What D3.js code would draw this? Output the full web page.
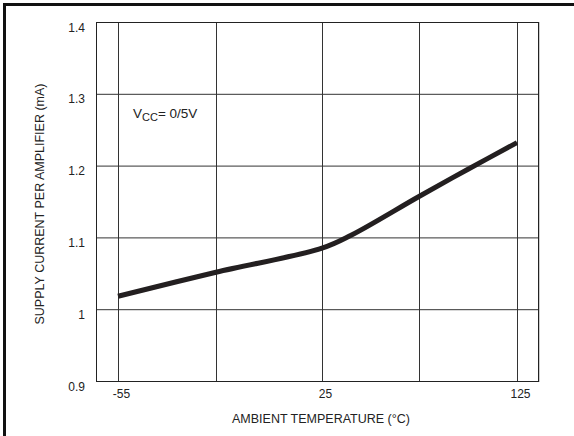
<!DOCTYPE html>
<html>
<head>
<meta charset="utf-8">
<script src="https://cdn.jsdelivr.net/npm/d3@7"></script>
<style>
  html, body { margin: 0; padding: 0; background: #fff; }
  svg { display: block; font-family: "Liberation Sans", Arial, Helvetica, sans-serif; }
</style>
</head>
<body>
<svg id="chart" width="574" height="436"></svg>
<script>
// data
const temps = [-55, -15, 25, 40, 75, 100, 125];
const current = [1.018, 1.0515, 1.085, 1.103, 1.157, 1.195, 1.232];

const xGrid = [-55, -15, 25, 75, 125];
const xLabels = [-55, 25, 125];
const yTicks = [0.9, 1, 1.1, 1.2, 1.3, 1.4];

const margin = { top: 22, right: 36, bottom: 55, left: 96 };
const W = 574, H = 436;
const w = W - margin.left - margin.right;
const h = H - margin.top - margin.bottom;

const svg = d3.select("#chart");

// outer frame (only top and left visible)
svg.append("path")
  .attr("d", `M4.5,${H} V4.5 H${W}`)
  .attr("fill", "none")
  .attr("stroke", "#111")
  .attr("stroke-width", 3);

const g = svg.append("g")
  .attr("transform", `translate(${margin.left},${margin.top})`);

// grid on the page is not evenly spaced in degrees
const x = d3.scaleLinear()
  .domain(xGrid)
  .range([22, 120, 226, 323, 421]);

const y = d3.scaleLinear()
  .domain([0.9, 1.4])
  .range([h, 0]);

// light shadow right of plot box
g.append("line")
  .attr("x1", w + 1.5).attr("x2", w + 1.5)
  .attr("y1", 0).attr("y2", h + 1)
  .attr("stroke", "#ccc");

g.append("g")
  .attr("transform", `translate(0,${h})`)
  .call(d3.axisBottom(x)
    .tickValues(xGrid)
    .tickSize(-h)
    .tickPadding(8)
    .tickFormat(d => xLabels.includes(d) ? d : ""))
  .call(a => a.select(".domain").remove())
  .call(a => a.selectAll(".tick line").attr("stroke", "#333"))
  .call(a => a.selectAll(".tick text")
    .attr("dx", 3)
    .attr("fill", "#222")
    .style("font-size", "12px"));

g.append("g")
  .call(d3.axisLeft(y)
    .tickValues(yTicks)
    .tickSize(-w)
    .tickPadding(11)
    .tickFormat(d3.format("")))
  .call(a => a.select(".domain").remove())
  .call(a => a.selectAll(".tick line").attr("stroke", "#333"))
  .call(a => a.selectAll(".tick text")
    .attr("dy", "0.75em")
    .attr("fill", "#222")
    .style("font-size", "12px"));

g.append("rect")
  .attr("x", 0.5).attr("y", 0.5)
  .attr("width", w).attr("height", h)
  .attr("fill", "none")
  .attr("stroke", "#222");

const line = d3.line()
  .x((d, i) => x(temps[i]))
  .y(d => y(d))
  .curve(d3.curveCatmullRom.alpha(0.5));

g.append("path")
  .datum(current)
  .attr("d", line)
  .attr("fill", "none")
  .attr("stroke", "#231f20")
  .attr("stroke-width", 5);

// condition label
const vcc = g.append("text")
  .attr("x", 37)
  .attr("y", 96)
  .attr("fill", "#222")
  .style("font-size", "13.5px");
vcc.append("tspan").text("V");
vcc.append("tspan").attr("dy", 3).style("font-size", "11px").text("CC");
vcc.append("tspan").attr("dy", -3).text("= 0/5V");

// axis titles
svg.append("text")
  .attr("x", 321)
  .attr("y", 423)
  .attr("text-anchor", "middle")
  .attr("fill", "#222")
  .style("font-size", "12.5px")
  .text("AMBIENT TEMPERATURE (°C)");

svg.append("text")
  .attr("transform", "translate(44,204) rotate(-90)")
  .attr("text-anchor", "middle")
  .attr("fill", "#222")
  .style("font-size", "12.5px")
  .text("SUPPLY CURRENT PER AMPLIFIER (mA)");
</script>
</body>
</html>
